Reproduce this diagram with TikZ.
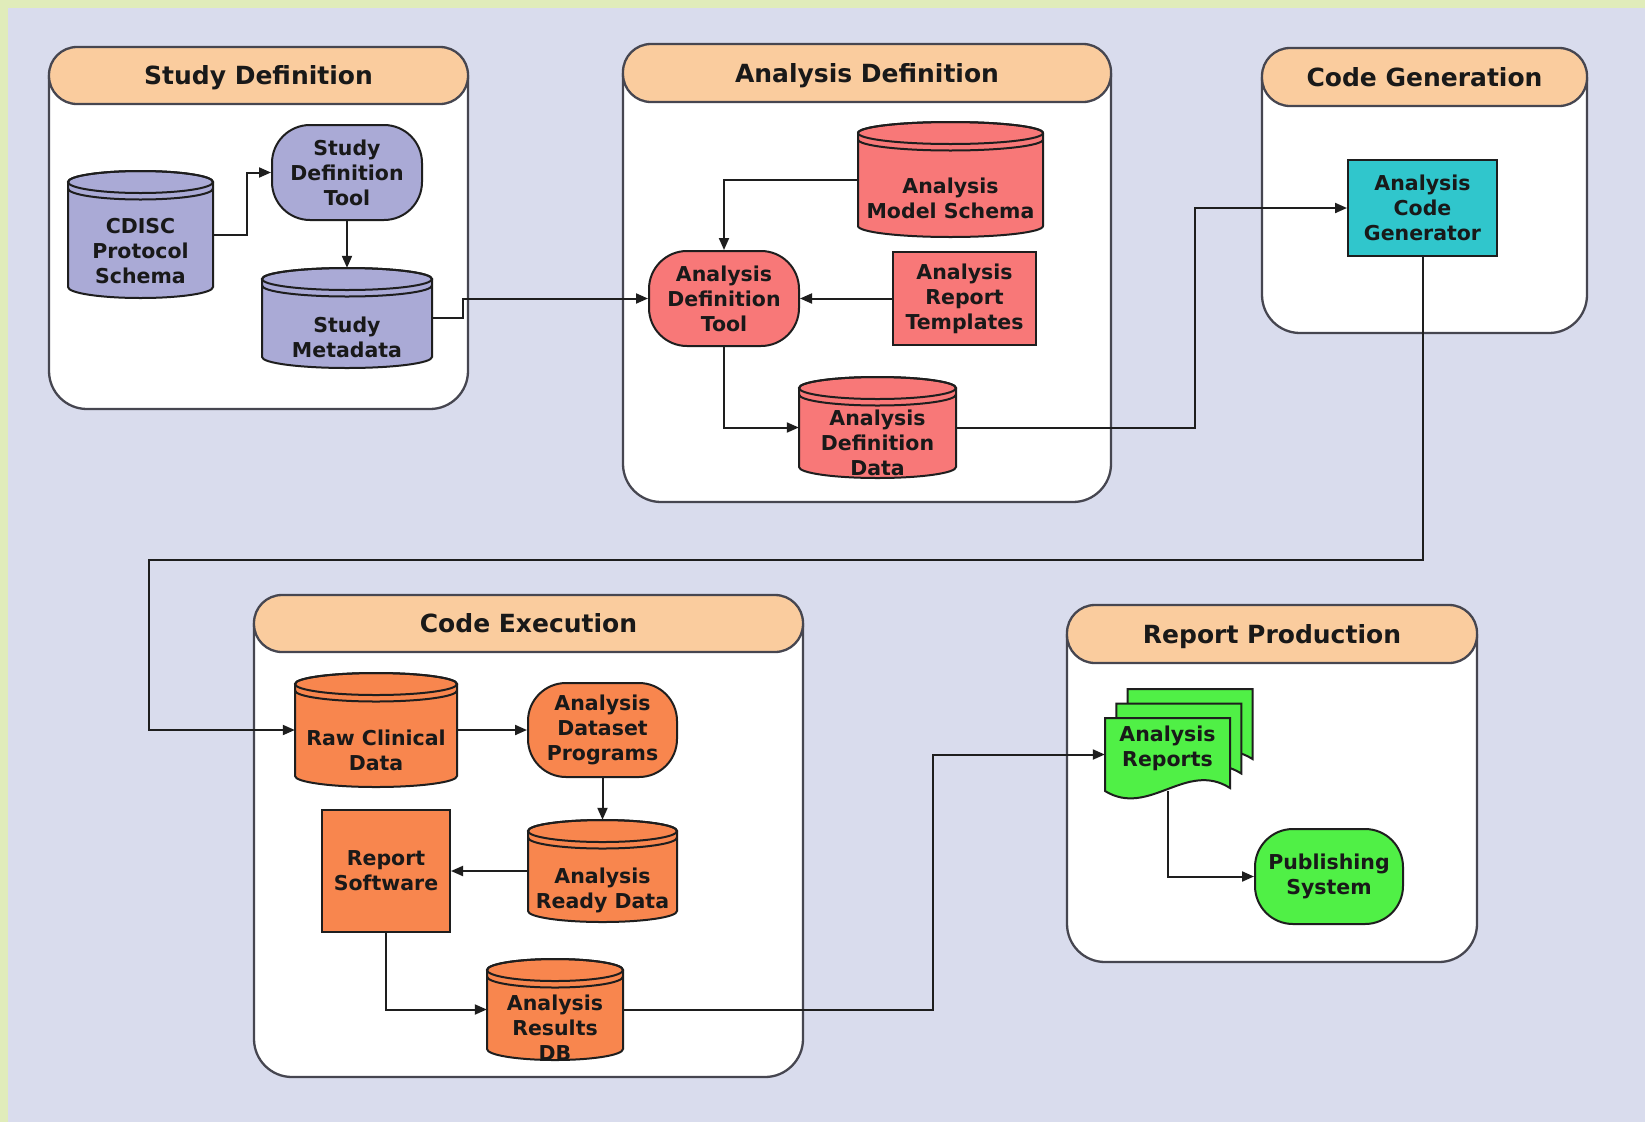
\documentclass[tikz,border=0pt]{standalone}
\usepackage{fontspec}
\setmainfont{DejaVu Sans}
\usetikzlibrary{arrows.meta}
\definecolor{bgc}{RGB}{217,220,237}
\definecolor{stripc}{RGB}{224,236,186}
\definecolor{hdrc}{RGB}{250,204,158}
\definecolor{purc}{RGB}{170,170,214}
\definecolor{salc}{RGB}{248,120,120}
\definecolor{tealc}{RGB}{48,198,204}
\definecolor{orac}{RGB}{248,134,78}
\definecolor{grnc}{RGB}{80,240,70}
\definecolor{linec}{RGB}{30,30,30}
\definecolor{panc}{RGB}{70,70,80}
\definecolor{txtc}{RGB}{25,25,25}

\newcommand{\cylnode}[8]{% name, cx, top, bottom, width, fill, text, text offset
  \pgfmathsetmacro{\cxl}{#2-#5/2}%
  \pgfmathsetmacro{\cxr}{#2+#5/2}%
  \pgfmathsetmacro{\cha}{#5/2}%
  \pgfmathsetmacro{\cyt}{#3+11}%
  \pgfmathsetmacro{\cyb}{#4-11}%
  \pgfmathsetmacro{\cyband}{#3+17.5}%
  \pgfmathsetmacro{\cym}{(#3+#4)/2}%
  \pgfmathsetmacro{\cht}{#4-#3}%
  \path[shapeline, fill=#6] (\cxl,\cyt) -- (\cxl,\cyb)
     arc[start angle=180, end angle=0, x radius=\cha, y radius=11]
     -- (\cxr,\cyt)
     arc[start angle=0, end angle=-180, x radius=\cha, y radius=11] -- cycle;
  \draw[shapeline] (#2,\cyt) ellipse[x radius=\cha, y radius=11];
  \draw[shapeline] (\cxl,\cyband) arc[start angle=180, end angle=0, x radius=\cha, y radius=11];
  \node[anchorbox, minimum width=#5, minimum height=\cht] (#1) at (#2,\cym) {};
  \node[nodetext] (#1-t) at ([yshift=-#8pt]#1.center) {#7};
}

\newcommand{\docsheet}[2]{% shift x, shift y
  \path[shapeline, fill=grnc, shift={(#1,#2)}] (1105,718) -- (1230,718) -- (1230,788)
     .. controls (1186,760) and (1149,818) .. (1105,791) -- cycle;
}

\begin{document}
\begin{tikzpicture}[x=1pt, y=-1pt,
  shapeline/.style={draw=linec, line width=2pt},
  nodetext/.style={font=\fontsize{20.5}{25}\selectfont\bfseries, text=txtc, align=center, inner sep=0pt},
  anchorbox/.style={draw=none, inner sep=0pt},
  procbox/.style={shapeline, nodetext, rectangle},
  toolbox/.style={shapeline, nodetext, rounded corners=38pt},
  conn/.style={draw=linec, line width=2pt, -{Triangle[length=12pt,width=10pt]}},
  panelbody/.style={fill=white, draw=panc, line width=2.3pt, rounded corners=38pt},
  header/.style={fill=hdrc, draw=panc, line width=2.3pt, rounded corners=28pt,
     font=\fontsize{25}{30}\selectfont\bfseries, text=txtc,
     text height=18pt, text depth=0pt, inner sep=0pt}
]
\useasboundingbox (0,0) rectangle (1645,1122);
\fill[bgc] (0,0) rectangle (1645,1122);
\fill[stripc] (0,0) rectangle (8,1122);
\fill[stripc] (0,0) rectangle (1645,8);

% ---------- panels ----------
\path[panelbody] (49,75) -- (49,409) -- (468,409) -- (468,75);
\node[header, minimum width=419, minimum height=57] (h1) at (258.5,75.5) {Study Definition};

\path[panelbody] (623,73) -- (623,502) -- (1111,502) -- (1111,73);
\node[header, minimum width=488, minimum height=58] (h2) at (867,73) {Analysis Definition};

\path[panelbody] (1262,77) -- (1262,333) -- (1587,333) -- (1587,77);
\node[header, minimum width=325, minimum height=58] (h3) at (1424.5,77) {Code Generation};

\path[panelbody] (254,623) -- (254,1077) -- (803,1077) -- (803,623);
\node[header, minimum width=549, minimum height=57] (h4) at (528.5,623.5) {Code Execution};

\path[panelbody] (1067,634) -- (1067,962) -- (1477,962) -- (1477,634);
\node[header, minimum width=410, minimum height=58] (h5) at (1272,634) {Report Production};

% ---------- Study Definition ----------
\cylnode{CDISC}{140.5}{171}{298}{145}{purc}{CDISC\\Protocol\\Schema}{17}
\node[toolbox, fill=purc, minimum width=150, minimum height=95] (SDT) at (347,172.5) {Study\\Definition\\Tool};
\cylnode{SM}{347}{268}{368}{170}{purc}{Study\\Metadata}{19}

% ---------- Analysis Definition ----------
\cylnode{AMS}{950.5}{122}{237}{185}{salc}{Analysis\\Model Schema}{19}
\node[toolbox, fill=salc, minimum width=150, minimum height=95] (ADT) at (724,298.5) {Analysis\\Definition\\Tool};
\node[procbox, fill=salc, minimum width=143, minimum height=93] (ART) at (964.5,298.5) {Analysis\\Report\\Templates};
\cylnode{ADD}{877.5}{377}{478}{157}{salc}{Analysis\\Definition\\Data}{15}

% ---------- Code Generation ----------
\node[procbox, fill=tealc, minimum width=149, minimum height=96] (ACG) at (1422.5,208) {Analysis\\Code\\Generator};

% ---------- Code Execution ----------
\cylnode{RCD}{376}{673}{787}{162}{orac}{Raw Clinical\\Data}{20}
\node[toolbox, fill=orac, minimum width=149, minimum height=94] (ADP) at (602.5,730) {Analysis\\Dataset\\Programs};
\cylnode{ARD}{602.5}{820}{922}{149}{orac}{Analysis\\Ready Data}{19}
\node[procbox, fill=orac, minimum width=128, minimum height=122] (RS) at (386,871) {Report\\Software};
\cylnode{ARDB}{555}{959}{1060}{136}{orac}{Analysis\\Results\\DB}{18}

% ---------- Report Production ----------
\docsheet{22.5}{-29}
\docsheet{11.25}{-14.5}
\docsheet{0}{0}
\node[anchorbox, minimum width=125, minimum height=73] (AR) at (1167.5,754.5) {};
\node[nodetext] (AR-t) at (1167.5,748) {Analysis\\Reports};
\node[toolbox, fill=grnc, minimum width=148, minimum height=95] (PS) at (1329,876.5) {Publishing\\System};

% ---------- connectors ----------
\coordinate (k5) at (247,200);
\coordinate (k4) at (463,310);
\coordinate (k3) at (1195,300);
\coordinate (k1) at (149,560);
\coordinate (k2) at (933,900);

\draw[conn] (CDISC.east) -| (k5) |- (SDT.west);
\draw[conn] (SDT.south) -- (SM.north);
\draw[conn] (SM.east) -| (k4) |- (ADT.west);
\draw[conn] (AMS.west) -| (ADT.north);
\draw[conn] (ART.west) -- (ADT.east);
\draw[conn] (ADT.south) |- (ADD.west);
\draw[conn] (ADD.east) -| (k3) |- (ACG.west);
\draw[conn] (ACG.south) |- (k1) |- (RCD.west);
\draw[conn] (RCD.east) -- (ADP.west);
\draw[conn] (ADP.south) -- (ARD.north);
\draw[conn] (ARD.west) -- (RS.east);
\draw[conn] (RS.south) |- (ARDB.west);
\draw[conn] (ARDB.east) -| (k2) |- (AR.west);
\draw[conn] (AR.south) |- (PS.west);
\end{tikzpicture}
\end{document}
